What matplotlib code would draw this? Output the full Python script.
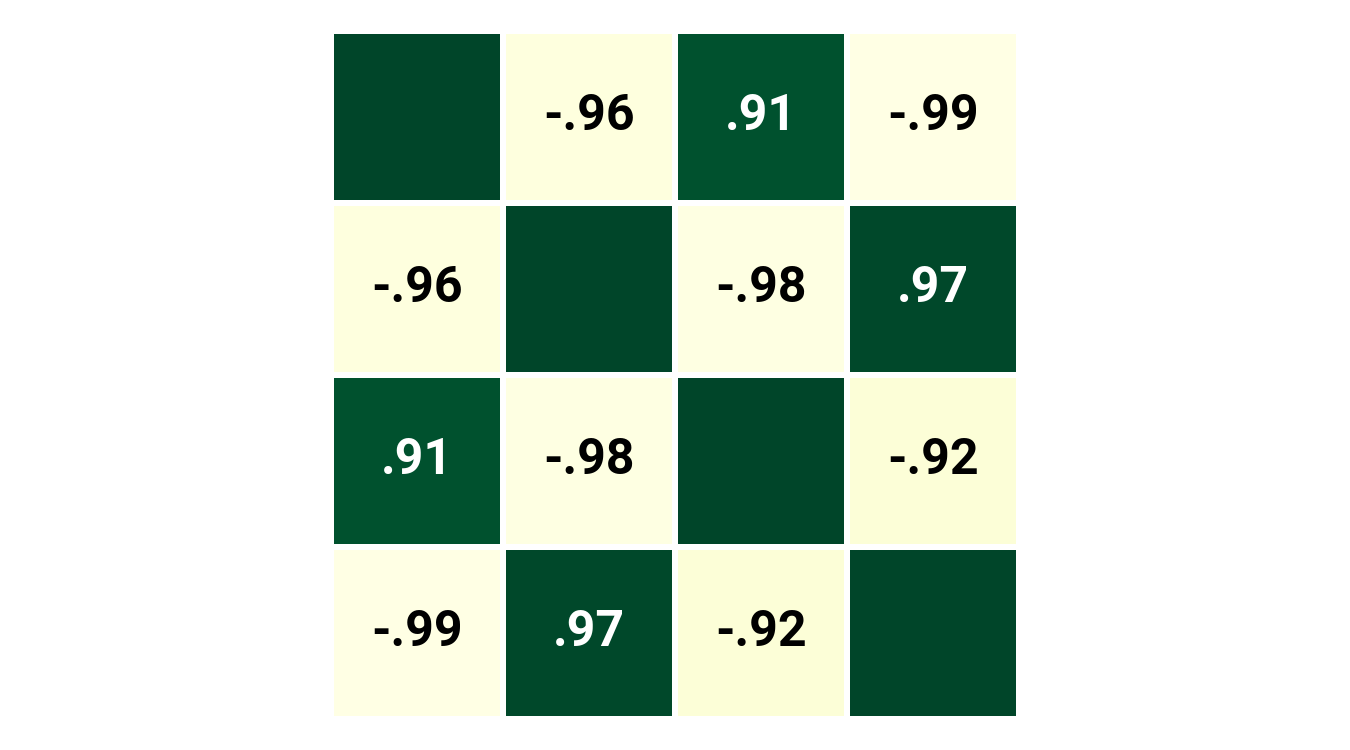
import numpy as np
import matplotlib.pyplot as plt

# correlation matrix (diagonal left unlabeled)
labels = ['A', 'B', 'C', 'D']
corr = np.array([
    [1.00, -0.96, 0.91, -0.99],
    [-0.96, 1.00, -0.98, 0.97],
    [0.91, -0.98, 1.00, -0.92],
    [-0.99, 0.97, -0.92, 1.00],
])

fig = plt.figure(figsize=(13.5, 7.5), dpi=100)
ax = fig.add_axes([331 / 1350, 1 - 719 / 750, 688 / 1350, 688 / 750])

ax.pcolormesh(corr, cmap='YlGn', vmin=-1, vmax=1,
              edgecolor='white', linewidth=4.3)
ax.set_xlim(0, len(labels))
ax.set_ylim(len(labels), 0)
ax.set_axis_off()

for i in range(len(labels)):
    for j in range(len(labels)):
        if i == j:
            continue
        v = corr[i, j]
        txt = f'{v:.2f}'.replace('0.', '.')
        ax.text(j + 0.5, i + 0.5, txt, ha='center', va='center',
                fontsize=36, fontweight='bold', family='Roboto',
                color='white' if v > 0 else 'black')

fig.savefig('out.png', dpi=100)
